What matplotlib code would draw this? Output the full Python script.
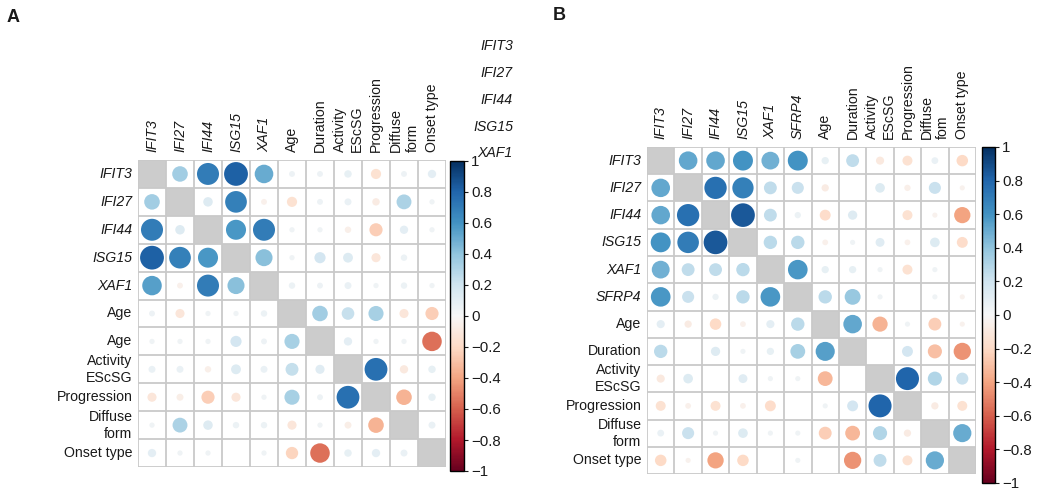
import matplotlib
matplotlib.use("Agg")
import matplotlib.pyplot as plt
import numpy as np
from matplotlib.patches import Ellipse, Rectangle
from matplotlib.colors import Normalize
from matplotlib.cm import ScalarMappable

plt.rcParams['font.family'] = ['Liberation Sans', 'DejaVu Sans']

# ---------------- Data ----------------
rows_a = ["IFIT3", "IFI27", "IFI44", "ISG15", "XAF1", "Age", "Age",
          "Activity\nEScSG", "Progression", "Diffuse\nform", "Onset type"]
cols_a = ["IFIT3", "IFI27", "IFI44", "ISG15", "XAF1", "Age", "Duration",
          "Activity\nEScSG", "Progression", "Diffuse\nform", "Onset type"]
italic_a = 5  # first 5 labels are genes (italic)

corr_a = [
    [1.00, 0.35, 0.70, 0.82, 0.50, 0.05, 0.05, 0.08, -0.15, 0.05, 0.10],
    [0.35, 1.00, 0.13, 0.68, -0.05, -0.15, 0.05, 0.07, -0.08, 0.32, 0.04],
    [0.70, 0.13, 1.00, 0.58, 0.70, 0.04, 0.04, -0.06, -0.25, 0.10, 0.04],
    [0.82, 0.68, 0.58, 1.00, 0.42, 0.04, 0.18, 0.14, -0.12, 0.06, 0.00],
    [0.55, -0.05, 0.70, 0.42, 1.00, 0.06, 0.05, 0.07, 0.04, 0.06, 0.04],
    [0.05, -0.12, 0.04, 0.04, 0.06, 1.00, 0.35, 0.23, 0.33, -0.12, -0.25],
    [0.04, 0.04, 0.04, 0.18, 0.05, 0.33, 1.00, 0.10, 0.04, 0.04, -0.55],
    [0.07, 0.07, -0.06, 0.14, 0.07, 0.24, 0.12, 1.00, 0.75, -0.10, 0.08],
    [-0.12, -0.07, -0.25, -0.12, 0.04, 0.33, 0.05, 0.75, 1.00, -0.35, 0.08],
    [0.04, 0.32, 0.13, 0.06, 0.06, -0.12, 0.04, -0.07, -0.35, 1.00, 0.07],
    [0.10, 0.04, 0.04, 0.00, 0.04, -0.22, -0.55, 0.08, 0.10, 0.07, 1.00],
]

rows_b = ["IFIT3", "IFI27", "IFI44", "ISG15", "XAF1", "SFRP4", "Age", "Duration",
          "Activity\nEScSG", "Progression", "Diffuse\nform", "Onset type"]
cols_b = ["IFIT3", "IFI27", "IFI44", "ISG15", "XAF1", "SFRP4", "Age", "Duration",
          "Activity\nEScSG", "Progression", "Diffuse\nfom", "Onset type"]
italic_b = 6

corr_b = [
    [1.00, 0.52, 0.52, 0.60, 0.48, 0.60, 0.08, 0.25, -0.10, -0.15, 0.07, -0.20],
    [0.52, 1.00, 0.75, 0.68, 0.25, 0.22, -0.08, 0.00, 0.14, -0.06, 0.22, -0.04],
    [0.52, 0.75, 1.00, 0.85, 0.25, 0.06, -0.18, 0.13, 0.00, -0.15, -0.04, -0.40],
    [0.60, 0.70, 0.85, 1.00, 0.27, 0.27, -0.05, 0.04, 0.12, -0.05, 0.14, -0.18],
    [0.48, 0.25, 0.25, 0.27, 1.00, 0.58, 0.08, 0.08, 0.04, -0.15, 0.04, 0.00],
    [0.58, 0.22, 0.06, 0.27, 0.58, 1.00, 0.27, 0.38, 0.04, 0.00, 0.04, -0.04],
    [0.10, -0.08, -0.20, -0.05, 0.10, 0.27, 1.00, 0.52, -0.35, 0.04, -0.25, -0.04],
    [0.27, 0.00, 0.13, 0.04, 0.08, 0.33, 0.55, 1.00, 0.00, 0.18, -0.30, -0.45],
    [-0.10, 0.14, 0.00, 0.12, 0.04, 0.04, -0.33, 0.00, 1.00, 0.80, 0.30, 0.22],
    [-0.15, -0.05, -0.15, -0.05, -0.18, 0.00, 0.04, 0.18, 0.80, 1.00, -0.08, -0.15],
    [0.07, 0.22, 0.04, 0.14, 0.04, 0.04, -0.25, -0.33, 0.30, -0.08, 1.00, 0.50],
    [-0.20, -0.04, -0.40, -0.20, 0.00, 0.04, 0.00, -0.45, 0.25, -0.15, 0.50, 1.00],
]

extra_labels_a = ["IFIT3", "IFI27", "IFI44", "ISG15", "XAF1"]
cbar_ticks = [-1, -0.8, -0.6, -0.4, -0.2, 0, 0.2, 0.4, 0.6, 0.8, 1]

# ---------------- Drawing ----------------
W, H = 1039, 492
fig = plt.figure(figsize=(W / 100, H / 100), dpi=100)
cmap = plt.get_cmap('RdBu')
norm = Normalize(-1, 1)
FS = 10.2
CFS = 10.8
TXT = '#1a1a1a'
GRID = '#c9c9c9'
LS = 1.25


def px_axes(x0, y0, x1, y1):
    return fig.add_axes([x0 / W, 1 - y1 / H, (x1 - x0) / W, (y1 - y0) / H])


def corr_panel(ax, mat, rlabels, clabels, n_italic):
    mat = np.array(mat)
    n = mat.shape[0]
    ax.set_xlim(0, n)
    ax.set_ylim(n, 0)
    ax.set_xticks([])
    ax.set_yticks([])
    for s in ax.spines.values():
        s.set_visible(False)
    for i in range(n):
        for j in range(n):
            if i == j:
                ax.add_patch(Rectangle((j, i), 1, 1, facecolor='#cccccc', edgecolor='none', zorder=1))
                continue
            r = mat[i, j]
            d = 0.94 * np.sqrt(abs(r))
            if d > 0:
                ax.add_patch(Ellipse((j + 0.5, i + 0.5), d, d, facecolor=cmap(norm(r)),
                                     edgecolor='none', zorder=2))
    for k in range(n + 1):
        ax.plot([0, n], [k, k], color=GRID, lw=1.3, zorder=3, solid_capstyle='projecting')
        ax.plot([k, k], [0, n], color=GRID, lw=1.3, zorder=3, solid_capstyle='projecting')
    for i, lab in enumerate(rlabels):
        ax.text(-0.2, i + 0.5, lab, ha='right', va='center', fontsize=FS, color=TXT,
                style='italic' if i < n_italic else 'normal', multialignment='right',
                linespacing=LS)
    for j, lab in enumerate(clabels):
        ax.text(j + 0.5, -0.3, lab, ha='center', va='bottom', rotation=90, fontsize=FS,
                color=TXT, style='italic' if j < n_italic else 'normal',
                multialignment='left', linespacing=LS)


def colorbar(cax):
    sm = ScalarMappable(norm=norm, cmap=cmap)
    cb = fig.colorbar(sm, cax=cax, ticks=cbar_ticks)
    cb.outline.set_linewidth(1.0)
    cb.outline.set_edgecolor('black')
    cb.ax.tick_params(labelsize=CFS, length=3, width=0.8, colors=TXT, pad=2)
    cb.ax.set_yticklabels([('%g' % t).replace('-', '\u2212') for t in cbar_ticks])


axA = px_axes(138, 160, 446, 467)
corr_panel(axA, corr_a, rows_a, cols_a, italic_a)
colorbar(px_axes(450, 161, 464, 471))

axB = px_axes(647, 147, 976, 474)
corr_panel(axB, corr_b, rows_b, cols_b, italic_b)
colorbar(px_axes(982, 147, 995, 483))

for lab, y in zip(extra_labels_a, [46, 73, 100, 127, 153]):
    fig.text(513 / W, 1 - y / H, lab, ha='right', va='center', fontsize=FS,
             style='italic', color=TXT)

fig.text(7 / W, 1 - 17 / H, 'A', fontsize=13, fontweight='bold', va='center', ha='left', color=TXT)
fig.text(553 / W, 1 - 15 / H, 'B', fontsize=13, fontweight='bold', va='center', ha='left', color=TXT)

fig.savefig('out.png', dpi=100)
